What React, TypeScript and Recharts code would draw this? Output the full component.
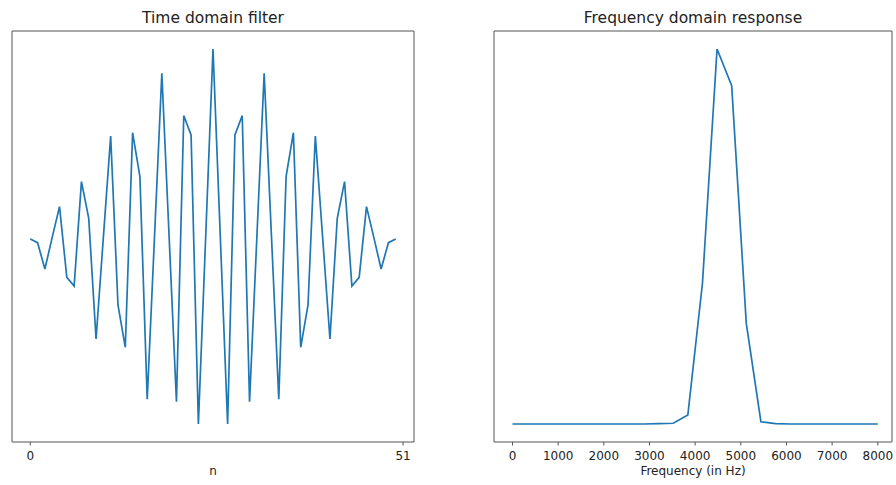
import React from "react";
import { LineChart, Line, XAxis, YAxis } from "recharts";

// Time-domain filter taps h[n], n = 0..50
const timeTaps: number[] = [
  -0.005, -0.016, -0.095, 0.0, 0.092, -0.12, -0.146, 0.167, 0.057, -0.305,
  0.0, 0.304, -0.203, -0.33, 0.314, 0.182, -0.486, 0.003, 0.492, 0.0,
  -0.493, 0.365, 0.307, -0.56, 0.002, 0.565, 0.002, -0.56, 0.307, 0.365,
  -0.493, 0.0, 0.492, 0.003, -0.486, 0.182, 0.314, -0.33, -0.203, 0.304,
  0.0, -0.305, 0.057, 0.167, -0.146, -0.12, 0.092, 0.0, -0.095, -0.016,
  -0.005,
];
const timeTicks: number[] = [0, 51];

// Frequency response (Hz, magnitude)
const freqHz: number[] = [
  0, 320, 640, 960, 1280, 1600, 1920, 2240, 2560, 2880, 3200, 3520, 3840,
  4160, 4480, 4800, 5120, 5440, 5760, 6080, 6400, 6720, 7040, 7360, 7680, 8000,
];
const freqMag: number[] = [
  0.001, 0.001, 0.001, 0.001, 0.001, 0.001, 0.001, 0.001, 0.001, 0.001,
  0.002, 0.003, 0.025, 0.376, 1.0, 0.902, 0.269, 0.007, 0.002, 0.001,
  0.001, 0.001, 0.001, 0.001, 0.001, 0.001,
];
const freqTicks: number[] = [0, 1000, 2000, 3000, 4000, 5000, 6000, 7000, 8000];

const timeData = timeTaps.map((h, i) => ({ n: i, h }));
const freqData = freqHz.map((f, i) => ({ f, m: freqMag[i] }));

const FONT = "DejaVu Sans, Verdana, sans-serif";
const SPINE = "#555555";
const LINE = "#1f77b4";
const tickStyle = { fontSize: 12, fill: "#222", fontFamily: FONT };

export default function App() {
  return (
    <div
      style={{
        position: "absolute",
        left: 0,
        top: 0,
        width: 896,
        height: 485,
        background: "#fff",
        fontFamily: FONT,
      }}
    >
      <div style={{ position: "absolute", left: 0, top: 0 }}>
        <LineChart
          width={420}
          height={485}
          data={timeData}
          margin={{ top: 30, right: 5, bottom: 3, left: 11 }}
        >
          <XAxis
            dataKey="n"
            type="number"
            domain={[-2.5, 52.5]}
            ticks={timeTicks}
            tick={tickStyle}
            tickSize={3.5}
            tickMargin={6}
            height={40}
            stroke={SPINE}
            allowDataOverflow
            label={{
              value: "n",
              position: "insideBottom",
              offset: 7,
              style: { fontSize: 12, fill: "#222", fontFamily: FONT },
            }}
          />
          <XAxis
            xAxisId="top"
            orientation="top"
            dataKey="n"
            type="number"
            domain={[-2.5, 52.5]}
            height={1}
            tick={false}
            tickLine={false}
            stroke={SPINE}
          />
          <YAxis
            type="number"
            domain={[-0.614, 0.619]}
            width={1}
            tick={false}
            tickLine={false}
            stroke={SPINE}
            allowDataOverflow
          />
          <YAxis
            yAxisId="right"
            orientation="right"
            type="number"
            domain={[-0.614, 0.619]}
            width={1}
            tick={false}
            tickLine={false}
            stroke={SPINE}
          />
          <Line
            dataKey="h"
            stroke={LINE}
            strokeWidth={1.7}
            dot={false}
            isAnimationActive={false}
            type="linear"
          />
        </LineChart>
      </div>

      <div style={{ position: "absolute", left: 480, top: 0 }}>
        <LineChart
          width={416}
          height={485}
          data={freqData}
          margin={{ top: 30, right: 3, bottom: 3, left: 13 }}
        >
          <XAxis
            dataKey="f"
            type="number"
            domain={[-405, 8311]}
            ticks={freqTicks}
            tick={tickStyle}
            tickSize={3.5}
            tickMargin={6}
            height={40}
            stroke={SPINE}
            interval={0}
            allowDataOverflow
            label={{
              value: "Frequency (in Hz)",
              position: "insideBottom",
              offset: 7,
              style: { fontSize: 12, fill: "#222", fontFamily: FONT },
            }}
          />
          <XAxis
            xAxisId="top"
            orientation="top"
            dataKey="f"
            type="number"
            domain={[-405, 8311]}
            height={1}
            tick={false}
            tickLine={false}
            stroke={SPINE}
          />
          <YAxis
            type="number"
            domain={[-0.047, 1.048]}
            width={1}
            tick={false}
            tickLine={false}
            stroke={SPINE}
            allowDataOverflow
          />
          <YAxis
            yAxisId="right"
            orientation="right"
            type="number"
            domain={[-0.047, 1.048]}
            width={1}
            tick={false}
            tickLine={false}
            stroke={SPINE}
          />
          <Line
            dataKey="m"
            stroke={LINE}
            strokeWidth={1.7}
            dot={false}
            isAnimationActive={false}
            type="linear"
          />
        </LineChart>
      </div>

      <svg
        width={896}
        height={40}
        style={{ position: "absolute", left: 0, top: 0, pointerEvents: "none" }}
      >
        <text x={213} y={23} textAnchor="middle" fontSize={15.5} fill="#222" fontFamily={FONT}>
          Time domain filter
        </text>
        <text x={693} y={23} textAnchor="middle" fontSize={15.5} fill="#222" fontFamily={FONT}>
          Frequency domain response
        </text>
      </svg>
    </div>
  );
}
